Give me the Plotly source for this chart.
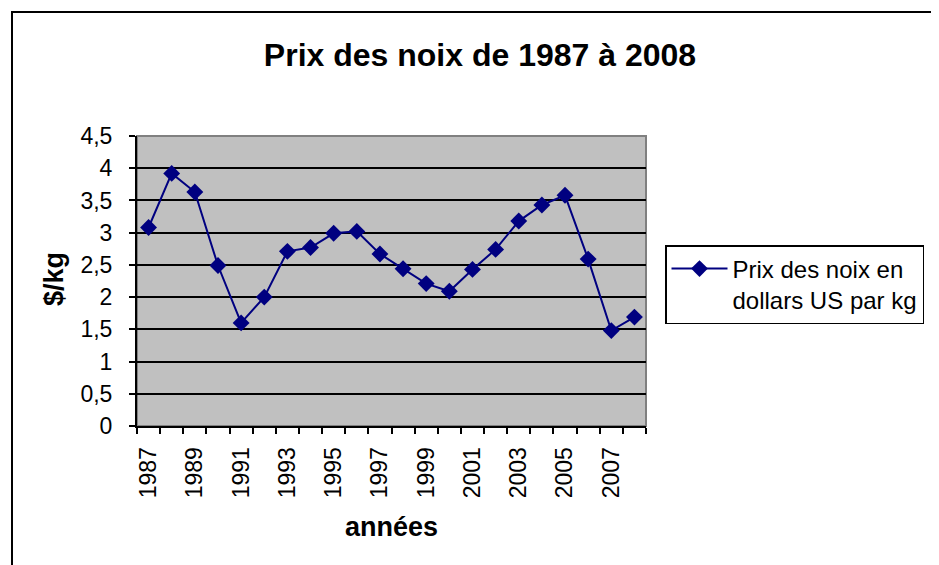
"""
Prix des noix de 1987 a 2008 - line chart in the style of an old spreadsheet chart
"""

import plotly.graph_objs as go

# data
years = list(range(1987, 2009))
prices = [3.08, 3.92, 3.63, 2.49, 1.60, 2.00, 2.71, 2.77, 2.99, 3.02, 2.67,
          2.44, 2.21, 2.09, 2.43, 2.74, 3.18, 3.43, 3.58, 2.59, 1.48, 1.69]
series_name = 'Prix des noix en<br>dollars US par kg'
y_ticks = [0, 0.5, 1, 1.5, 2, 2.5, 3, 3.5, 4, 4.5]

FONT = 'Liberation Sans, Arial, sans-serif'
NAVY = '#000080'

# the page body has an 8px margin, so the figure is shifted by that much
OFF = 8
W, H = 939 - OFF, 565 - OFF
# plot area in screen pixels
L, R, T, B = 137 - OFF, 646 - OFF, 136 - OFF, 426 - OFF


def px_x(x):
    """screen x pixel -> paper coordinate"""
    return (x - OFF - L) / (R - L)


def px_y(y):
    """screen y pixel -> paper coordinate"""
    return (B - (y - OFF)) / (B - T)


fig = go.Figure()

fig.add_trace(go.Scatter(x=years, y=prices, mode='lines+markers', name=series_name,
                         line=dict(color=NAVY, width=2),
                         marker=dict(symbol='diamond', size=13, color=NAVY)))

fig.update_layout(
    width=W, height=H,
    margin=dict(l=L, r=W - R, t=T, b=H - B, autoexpand=False),
    paper_bgcolor='white',
    plot_bgcolor='#C0C0C0',
    separators=', ',
    font=dict(family=FONT, size=23, color='black'),
    showlegend=True,
    title=dict(text='<b>Prix des noix de 1987 à 2008</b>', font=dict(size=32),
               xref='paper', x=px_x(480), xanchor='center',
               yref='container', y=1 - (55 - OFF) / H, yanchor='middle'),
    legend=dict(x=px_x(665), y=px_y(245), xanchor='left', yanchor='top',
                bordercolor='black', borderwidth=1.5, bgcolor='white',
                itemwidth=56, valign='top', font=dict(size=24)),
)

fig.update_xaxes(range=[years[0] - 0.5, years[-1] + 0.5], automargin=False,
                 tickmode='array', tickvals=years[::2], ticktext=[str(y) for y in years[::2]],
                 tickangle=-90, ticks='', showgrid=False, zeroline=False,
                 showline=True, linecolor='black', linewidth=2,
                 ticklabelstandoff=10,
                 minor=dict(tickmode='array', tickvals=[y - 0.5 for y in years] + [years[-1] + 0.5],
                            ticks='outside', ticklen=6, tickcolor='black', tickwidth=1.5,
                            showgrid=False))

fig.update_yaxes(range=[0, 4.5], tickmode='array', tickvals=y_ticks, automargin=False,
                 ticks='outside', ticklen=6, tickcolor='black', tickwidth=1.5,
                 showgrid=True, gridcolor='black', gridwidth=1.5, zeroline=False,
                 showline=True, linecolor='black', linewidth=2,
                 ticklabelstandoff=12)

# gray border around the plot area (top and right sides)
fig.add_shape(type='rect', xref='paper', yref='paper', x0=0, x1=1, y0=0, y1=1,
              line=dict(color='#808080', width=2), layer='below')

# outer chart border
fig.add_shape(type='rect', xref='paper', yref='paper',
              x0=px_x(12), x1=px_x(960), y0=px_y(590), y1=px_y(12),
              line=dict(color='black', width=2))

# axis titles
fig.add_annotation(text='<b>$/kg</b>', xref='paper', yref='paper',
                   x=px_x(54), y=px_y(279), xanchor='center', yanchor='middle',
                   showarrow=False, textangle=-90, font=dict(size=27))
fig.add_annotation(text='<b>années</b>', xref='paper', yref='paper',
                   x=px_x(391), y=px_y(527), xanchor='center', yanchor='middle',
                   showarrow=False, font=dict(size=27))

fig.write_html('out.html')
